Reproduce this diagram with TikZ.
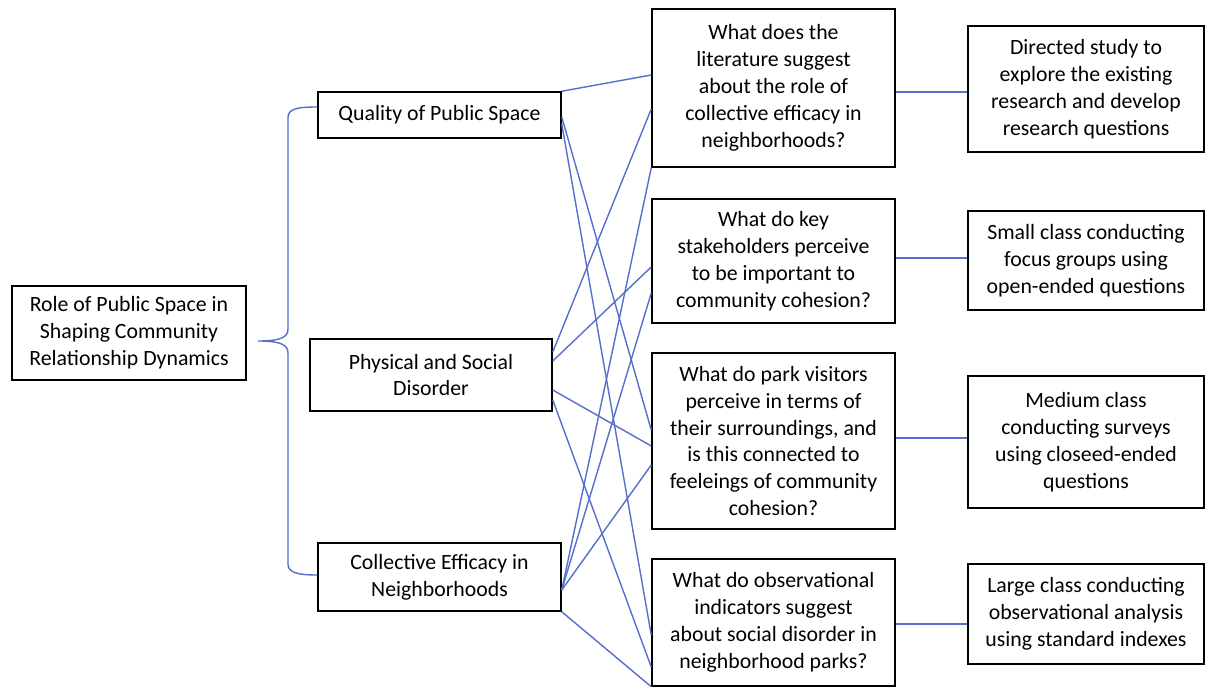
\documentclass[tikz,border=0pt]{standalone}
\usepackage{fontspec}
\setmainfont{Carlito}
\definecolor{linkblue}{RGB}{86,110,206}
\begin{document}
\begin{tikzpicture}[x=1pt,y=-1pt,
  box/.style={draw=black, line width=1.5pt, align=center, inner sep=0pt, text=black,
              font=\fontsize{21.8}{26.9}\selectfont},
  conn/.style={draw=linkblue, line width=1.4pt}]
\useasboundingbox (0,0) rectangle (1206,687);
\fill[white] (0,0) rectangle (1206,687);

% root
\node[box, minimum width=234pt, minimum height=94pt] (root) at (129,333)
  {Role of Public Space in\\Shaping Community\\Relationship Dynamics};

% middle column
\node[box, minimum width=243pt, minimum height=46pt] (qual) at (439.5,115)
  {Quality of Public Space};
\node[box, minimum width=242pt, minimum height=72pt] (phys) at (431,375)
  {Physical and Social\\Disorder};
\node[box, minimum width=243pt, minimum height=68pt] (coll) at (439.5,577)
  {Collective Efficacy in\\Neighborhoods};

% questions
\node[box, minimum width=243pt, minimum height=158pt] (q1) at (773.5,88)
  {What does the\\literature suggest\\about the role of\\collective efficacy in\\neighborhoods?};
\node[box, minimum width=243pt, minimum height=124pt] (q2) at (773.5,261)
  {What do key\\stakeholders perceive\\to be important to\\community cohesion?};
\node[box, minimum width=243pt, minimum height=176pt] (q3) at (773.5,441)
  {What do park visitors\\perceive in terms of\\their surroundings, and\\is this connected to\\feeleings of community\\cohesion?};
\node[box, minimum width=243pt, minimum height=127pt] (q4) at (773.5,622.5)
  {What do observational\\indicators suggest\\about social disorder in\\neighborhood parks?};

% methods
\node[box, minimum width=236pt, minimum height=126pt] (r1) at (1086,89)
  {Directed study to\\explore the existing\\research and develop\\research questions};
\node[box, minimum width=236pt, minimum height=99pt] (r2) at (1086,260.5)
  {Small class conducting\\focus groups using\\open-ended questions};
\node[box, minimum width=236pt, minimum height=132pt] (r3) at (1086,442)
  {Medium class\\conducting surveys\\using closeed-ended\\questions};
\node[box, minimum width=236pt, minimum height=100pt] (r4) at (1086,614)
  {Large class conducting\\observational analysis\\using standard indexes};

% brace
\coordinate (tip) at (258,341);
\draw[conn] ([yshift=8pt]qual.west) .. controls (296,107) and (288,109) .. (288,118)
  -- (288,329) .. controls (288,337) and (281,341) .. (tip)
  .. controls (281,341) and (288,345) .. (288,353)
  -- (288,564) .. controls (288,572) and (296,575) .. ([yshift=2pt]coll.west);

% middle -> questions
\draw[conn] (qual.north east) -- ([yshift=13pt]q1.west);
\draw[conn] ([yshift=-2pt]qual.east) -- ([yshift=11pt]q3.west);
\draw[conn] ([yshift=-9pt]qual.east) -- ([yshift=-12.5pt]q4.west);
\draw[conn] ([yshift=23pt]phys.east) -- ([yshift=-21pt]q1.west);
\draw[conn] ([yshift=14pt]phys.east) -- ([yshift=-6pt]q2.west);
\draw[conn] ([yshift=-15pt]phys.east) -- ([yshift=-5pt]q3.west);
\draw[conn] ([yshift=-25pt]phys.east) -- ([yshift=-44.5pt]q4.west);
\draw[conn] ([yshift=-13pt]coll.east) -- (q1.south west);
\draw[conn] ([yshift=-13pt]coll.east) -- ([yshift=-32pt]q2.west);
\draw[conn] ([yshift=-13pt]coll.east) -- ([yshift=-24pt]q3.west);
\draw[conn] (coll.south east) -- (q4.south west);

% questions -> methods
\draw[conn] ([yshift=-4pt]q1.east) -- ([yshift=-4pt]q1.east -| r1.west);
\draw[conn] ([yshift=3pt]q2.east) -- ([yshift=3pt]q2.east -| r2.west);
\draw[conn] ([yshift=3pt]q3.east) -- ([yshift=3pt]q3.east -| r3.west);
\draw[conn] ([yshift=-1.5pt]q4.east) -- ([yshift=-1.5pt]q4.east -| r4.west);
\end{tikzpicture}
\end{document}
